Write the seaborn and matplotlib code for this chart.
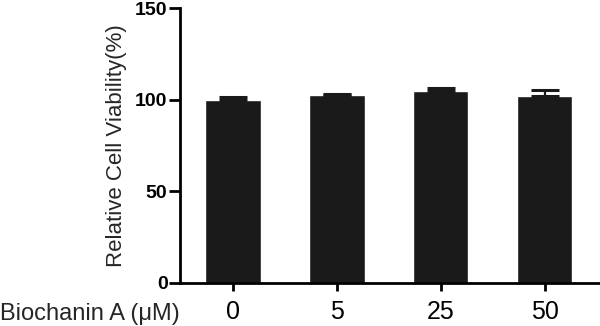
import numpy as np
import pandas as pd
import matplotlib
matplotlib.use("Agg")
import matplotlib.pyplot as plt
import seaborn as sns

# Values
doses = ["0", "5", "25", "50"]
viability = [100.0, 102.5, 105.0, 102.2]
sem = [1.6, 0.5, 1.3, 2.9]

df = pd.DataFrame({"dose": doses, "viability": viability})

sns.set_style("ticks")
plt.rcParams['font.family'] = ['Liberation Sans', 'DejaVu Sans']

fig = plt.figure(figsize=(6, 3.26), dpi=100)
ax = fig.add_axes([0.3, 0.132, 0.7, 0.843])

bar_color = "#1a1a1a"
sns.barplot(data=df, x="dose", y="viability", order=doses, color=bar_color,
            width=0.53, saturation=1, errorbar=None, ax=ax)

# upward-only error bars (GraphPad style)
ax.errorbar(np.arange(len(doses)), viability, yerr=[[0] * len(sem), sem],
            fmt="none", ecolor=bar_color, elinewidth=1.6, capsize=10,
            capthick=2.2, zorder=3)

ax.set_ylim(0, 150)
ax.set_yticks([0, 50, 100, 150])
ax.set_xlim(-0.51, 3.53)

sns.despine(ax=ax, top=True, right=True)
for side in ["left", "bottom"]:
    ax.spines[side].set_linewidth(2.0)
    ax.spines[side].set_color("black")

ax.tick_params(axis="y", length=8, width=2.0, labelsize=14, pad=1, colors="black")
ax.tick_params(axis="x", length=6, width=2.0, labelsize=18, pad=6, colors="black")
for lbl in ax.get_yticklabels():
    lbl.set_fontweight("bold")

ax.set_xlabel("")
ax.set_ylabel("Relative Cell Viability(%)", fontsize=16, labelpad=6)

fig.text(0.0, 0.036, "Biochanin A (μM)", fontsize=17, ha="left", va="center")

plt.savefig("out.png", dpi=100)
